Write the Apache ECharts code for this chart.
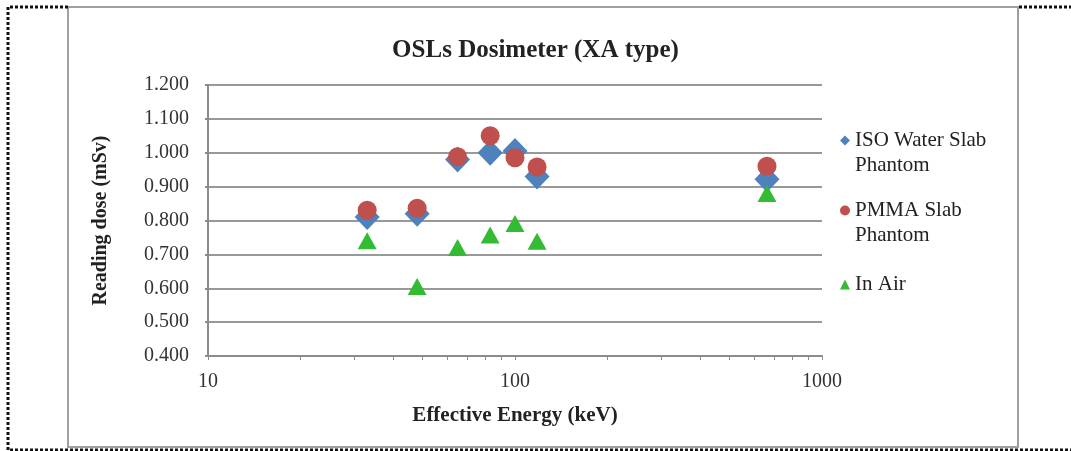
<!DOCTYPE html>
<html>
<head>
<meta charset="utf-8">
<script src="https://cdn.jsdelivr.net/npm/echarts@6/dist/echarts.min.js"></script>
<style>
html,body{margin:0;padding:0;background:#fff;}
#c{width:1071px;height:451px;}
</style>
</head>
<body>
<div id="c"></div>
<script>
const energies = [33, 48, 65, 83, 100, 118, 662];
const isoWater = [0.810, 0.820, 0.980, 1.000, 1.005, 0.930, 0.922];
const pmmaSlab = [0.830, 0.836, 0.988, 1.050, 0.985, 0.958, 0.960];
const inAir = [0.740, 0.605, 0.720, 0.757, 0.791, 0.739, 0.880];
const xTickValues = [10,20,30,40,50,60,70,80,90,100,200,300,400,500,600,700,800,900,1000];
const xLabelValues = [10, 100, 1000];
const seriesNames = ['ISO Water Slab Phantom', 'PMMA Slab Phantom', 'In Air'];
const legendLines = {
  'ISO Water Slab Phantom': ['ISO Water Slab', 'Phantom'],
  'PMMA Slab Phantom': ['PMMA Slab', 'Phantom'],
  'In Air': ['In Air']
};

const pairs = (xs, ys) => xs.map((x, i) => [x, ys[i]]);
const serif = 'Liberation Serif';
const legendTops = [100, 170, 244];

const legendFor = (name, i) => ({
  orient: 'vertical',
  left: 835,
  top: legendTops[i],
  itemWidth: 10,
  itemHeight: 10,
  data: [name],
  formatter: n => {
    const l = legendLines[n];
    if (l.length === 2) return '{e| }\n{t|' + l[0] + '}\n{t|' + l[1] + '}';
    return '{e| }\n{t|' + l[0] + '}\n{e| }';
  },
  textStyle: {
    fontFamily: serif, fontSize: 21, color: '#222',
    rich: {
      t: { fontFamily: serif, fontSize: 21, color: '#222', lineHeight: 25 },
      e: { fontFamily: serif, fontSize: 21, lineHeight: 25 }
    }
  }
});

const chart = echarts.init(document.getElementById('c'));
chart.setOption({
  backgroundColor: '#fff',
  animation: false,
  title: {
    text: 'OSLs Dosimeter (XA type)',
    left: 'center',
    top: 33,
    textStyle: { fontFamily: serif, fontWeight: 'bold', fontSize: 25, color: '#222' }
  },
  grid: { left: 208, right: 249, top: 85, bottom: 95, containLabel: false },
  xAxis: {
    type: 'log',
    logBase: 10,
    min: 10,
    max: 1000,
    name: 'Effective Energy (keV)',
    nameLocation: 'middle',
    nameGap: 49,
    nameTextStyle: { fontFamily: serif, fontWeight: 'bold', fontSize: 21, color: '#222' },
    axisLine: { show: true, lineStyle: { color: '#8c8c8c', width: 2 } },
    axisTick: { show: true, length: 4, inside: false, customValues: xTickValues, lineStyle: { color: '#8c8c8c', width: 1 } },
    axisLabel: { customValues: xLabelValues, margin: 16, fontFamily: serif, fontSize: 20, color: '#333', formatter: v => String(Math.round(v)) },
    splitLine: { show: false }
  },
  yAxis: {
    type: 'value',
    min: 0.4,
    max: 1.2,
    interval: 0.1,
    name: 'Reading dose (mSv)',
    nameLocation: 'middle',
    nameGap: 97,
    nameTextStyle: { fontFamily: serif, fontWeight: 'bold', fontSize: 20, color: '#222' },
    axisLine: { show: true, lineStyle: { color: '#8c8c8c', width: 2 } },
    axisTick: { show: true, length: 3, lineStyle: { color: '#8c8c8c', width: 2 } },
    axisLabel: { margin: 19, fontFamily: serif, fontSize: 20, color: '#333', formatter: v => v.toFixed(3) },
    splitLine: { show: true, lineStyle: { color: '#999', width: 2 } }
  },
  legend: seriesNames.map(legendFor),
  graphic: [
    { type: 'rect', silent: true, z: -1, shape: { x: 68, y: 7, width: 950, height: 440 },
      style: { fill: 'none', stroke: '#a0a0a0', lineWidth: 2 } },
    { type: 'polyline', silent: true, shape: { points: [[68, 7], [8, 7], [8, 450], [1071, 450]] },
      style: { fill: 'none', stroke: '#111', lineWidth: 3, lineDash: [3, 2] } },
    { type: 'line', silent: true, shape: { x1: 1019, y1: 7, x2: 1071, y2: 7 },
      style: { stroke: '#111', lineWidth: 3, lineDash: [3, 2] } }
  ],
  series: [
    {
      name: seriesNames[0], type: 'scatter', symbol: 'diamond', symbolSize: [25, 26],
      itemStyle: { color: '#4F81BD', opacity: 1 }, data: pairs(energies, isoWater)
    },
    {
      name: seriesNames[1], type: 'scatter', symbol: 'circle', symbolSize: 19,
      itemStyle: { color: '#C0504D', opacity: 1 }, data: pairs(energies, pmmaSlab)
    },
    {
      name: seriesNames[2], type: 'scatter', symbol: 'triangle', symbolSize: [19, 17],
      itemStyle: { color: '#33BB33', opacity: 1 }, data: pairs(energies, inAir)
    }
  ]
});
</script>
</body>
</html>
